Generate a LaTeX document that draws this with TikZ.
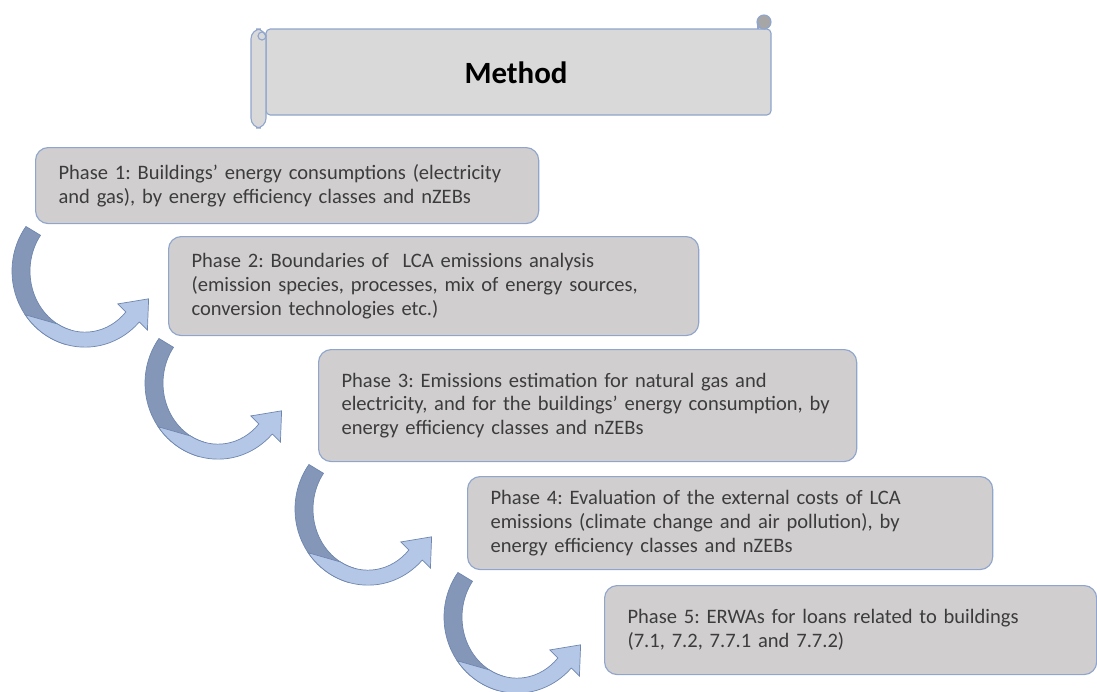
\documentclass[tikz,border=0pt]{standalone}
\usepackage{fontspec}
\setmainfont{Carlito}
\usetikzlibrary{positioning,calc}

\definecolor{boxfill}{RGB}{208,206,206}
\definecolor{boxline}{RGB}{143,165,205}
\definecolor{scrollfill}{RGB}{217,217,217}
\definecolor{curlfill}{RGB}{166,166,166}
\definecolor{arrowback}{RGB}{132,151,184}
\definecolor{arrowfront}{RGB}{180,199,231}
\definecolor{arrowline}{RGB}{110,134,175}
\definecolor{txt}{RGB}{60,60,60}
\frenchspacing

\begin{document}
\begin{tikzpicture}[
  x=0.025cm, y=0.025cm,
  font=\fontsize{14.6}{17}\selectfont,
  phase/.style ={draw=boxline,line width=0.8pt,fill=boxfill,rounded corners=9pt,anchor=north west,
                 align=left,inner xsep=0.575cm,text=txt},
  scroll/.style={draw=boxline,line width=0.8pt,fill=scrollfill},
  back/.style  ={fill=arrowback,draw=arrowline,line width=0.5pt},
  front/.style ={fill=arrowfront,draw=arrowline,line width=0.5pt}
]
\useasboundingbox (0,0) rectangle (1097,-691);
% title scroll
\draw[scroll,rounded corners=3pt] (266,-29) -- (771,-29) -- (771,-115) -- (266,-115) -- cycle;
\draw[scroll,fill=curlfill] (764,-22) circle[radius=7];
\draw[boxline,line width=0.8pt] (758,-22) -- (758,-29);
\draw[scroll,rounded corners=7pt] (251,-29) rectangle (266,-128);
\draw[boxline,line width=0.8pt] (262,-36) circle[radius=4];
\node[font=\bfseries\fontsize{22}{26}\selectfont] (title) at (516,-73) {Method};
% phases
\node[phase,text width=11.425cm,minimum height=1.9cm] (p1) at (35,-147)
  {Phase 1: Buildings’ energy consumptions (electricity\\and gas), by energy efficiency classes and nZEBs};
\node[phase,text width=12.1cm,minimum height=2.475cm] (p2) at (168,-236)
  {Phase 2: Boundaries of\ \ LCA emissions analysis\\(emission species, processes, mix of energy sources,\\conversion technologies etc.)};
\node[phase,text width=12.3cm,minimum height=2.8cm] (p3) at (318,-349)
  {Phase 3: Emissions estimation for natural gas and\\electricity, and for the buildings’ energy consumption, by\\energy efficiency classes and nZEBs};
\node[phase,text width=11.975cm,minimum height=2.325cm] (p4) at (467,-476)
  {Phase 4: Evaluation of the external costs of LCA\\emissions (climate change and air pollution), by\\energy efficiency classes and nZEBs};
\node[phase,text width=11.15cm,minimum height=2.225cm] (p5) at (604,-585)
  {Phase 5: ERWAs for loans related to buildings\\(7.1, 7.2, 7.7.1 and 7.7.2)};
% curved arrows under each phase
\foreach \a in {p1,p2,p3,p4}{
  \coordinate (c) at ($(\a.south west)+(50,-47)$);
  \filldraw[back] ($(c)+(144:73 and 76)$) arc[start angle=144,end angle=255,x radius=73,y radius=76]
    -- ($(c)+(255:55 and 61)$) arc[start angle=255,end angle=144,x radius=55,y radius=61] -- cycle;
  \filldraw[front] ($(c)+(215:73 and 76)$) arc[start angle=215,end angle=318,x radius=73,y radius=76]
    -- ($(c)+(318:84 and 88)$) -- ($(c)+(318:64 and 68)+(48:24)$) -- ($(c)+(318:44 and 49)$)
    -- ($(c)+(318:55 and 61)$) arc[start angle=318,end angle=240,x radius=55,y radius=61] -- cycle;
}
\end{tikzpicture}
\end{document}
